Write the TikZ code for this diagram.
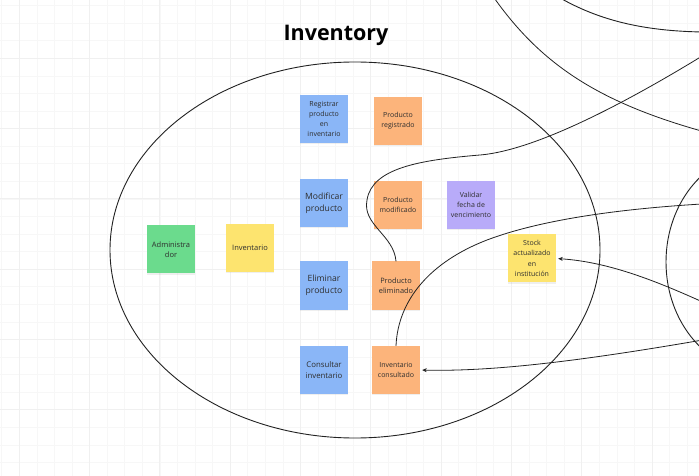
\documentclass[tikz,border=0pt]{standalone}
\usepackage{fontspec}
\setmainfont{Open Sans}
\usepackage{color}
\usepackage{tikz}
\usetikzlibrary{arrows.meta,shadows}

\definecolor{noteblue}{HTML}{8AB6F7}
\definecolor{noteorange}{HTML}{FCB47B}
\definecolor{notegreen}{HTML}{6BDB8D}
\definecolor{noteyellow}{HTML}{FDE46F}
\definecolor{notepurple}{HTML}{B8ABF9}
\definecolor{notetext}{HTML}{2E2E2E}
\definecolor{gridmin}{HTML}{F7F7F7}
\definecolor{gridmaj}{HTML}{F0F0F0}
\definecolor{linecol}{HTML}{222222}

\begin{document}
\begin{tikzpicture}[x=1bp, y=-1bp,
	note/.style={draw=none, minimum width=48bp, minimum height=48bp,
		inner sep=1bp, align=center, text=notetext,
		font=\fontsize{7bp}{10.3bp}\selectfont,
		drop shadow={shadow xshift=0bp, shadow yshift=-1.2bp, opacity=0.12}},
	bignote/.style={note, font=\fontsize{8.6bp}{11.5bp}\selectfont},
	gridminor/.style={gridmin, line width=0.7bp},
	gridmajor/.style={gridmaj, line width=1bp},
	bubble/.style={linecol, line width=0.9bp},
	link/.style={linecol, line width=0.8bp},
	arrowlink/.style={link, -{Stealth[length=4.5bp, width=4bp]}, shorten >=2bp}]

	\useasboundingbox (0,0) rectangle (699,476);
	\clip (0,0) rectangle (699,476);
	\fill[white] (0,0) rectangle (699,476);

	\foreach \k in {-1,...,39}
		\draw[gridminor] ({19.3+17.575*\k},0) -- ({19.3+17.575*\k},476);
	\foreach \k in {-4,...,24}
		\draw[gridminor] (0,{58.3+17.575*\k}) -- (699,{58.3+17.575*\k});
	\foreach \k in {0,...,9}
		\draw[gridmajor] ({19.3+70.3*\k},0) -- ({19.3+70.3*\k},476);
	\foreach \k in {-1,...,6}
		\draw[gridmajor] (0,{58.3+70.3*\k}) -- (699,{58.3+70.3*\k});

	\node (title) at (336,35) [text=black,
		font=\fontsize{21.5bp}{26bp}\selectfont\bfseries] {Inventory};

	\draw[bubble] (355,250) ellipse [x radius=245bp, y radius=188bp];
	\draw[bubble] (760,262) ellipse [x radius=94bp, y radius=110bp];
	\draw[bubble] (555,-5) .. controls (600,22) and (650,33) .. (720,32);
	\draw[link] (490,-8) .. controls (540,65) and (600,105) .. (720,136);

	\node (regprod) at (324,119) [note, fill=noteblue]
		{Registrar\\producto\\en\\inventario};
	\node (prodreg) at (398,121) [note, fill=noteorange]
		{Producto\\registrado};
	\node (modprod) at (324,203) [bignote, fill=noteblue]
		{Modificar\\producto};
	\node (prodmod) at (398,205) [note, fill=noteorange]
		{Producto\\modificado};
	\node (valfecha) at (471,205) [note, fill=notepurple]
		{Validar\\fecha de\\vencimiento};
	\node (stockact) at (532,258.5) [note, fill=noteyellow]
		{Stock\\actualizado\\en\\institución};
	\node (elimprod) at (324,285.5) [bignote, fill=noteblue]
		{Eliminar\\producto};
	\node (prodelim) at (396,285.5) [note, fill=noteorange,
		font=\fontsize{7.4bp}{10.5bp}\selectfont] {Producto\\eliminado};
	\node (consinv) at (324,370) [note, fill=noteblue,
		font=\fontsize{7.8bp}{10.8bp}\selectfont] {Consultar\\inventario};
	\node (invcons) at (396,370) [note, fill=noteorange]
		{Inventario\\consultado};
	\node (admin) at (171,249.5) [note, fill=notegreen,
		font=\fontsize{7.5bp}{10.5bp}\selectfont] {Administra\\dor};
	\node (invent) at (250,248) [note, fill=noteyellow,
		font=\fontsize{7.5bp}{10.5bp}\selectfont] {Inventario};

	\coordinate (outa) at (720,45);
	\coordinate (outb) at (720,203);
	\coordinate (outc) at (720,310);
	\coordinate (outd) at (720,337);

	\draw[link] (prodelim.north) .. controls (394,235) and (362,225) .. (367,200)
		.. controls (372,168) and (420,160) .. (480,155)
		.. controls (540,150) and (640,95) .. (outa);
	\draw[link] (invcons.north) .. controls (398,300) and (430,262) .. (487,240)
		.. controls (540,220) and (620,208) .. (outb);
	\draw[arrowlink] (outc) .. controls (660,282) and (610,262) .. (stockact.east);
	\draw[arrowlink] (outd) .. controls (600,358) and (500,372) .. (invcons.east);
\end{tikzpicture}
\end{document}
